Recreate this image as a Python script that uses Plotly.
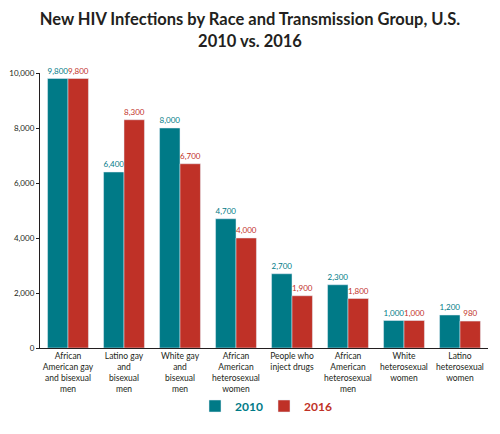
import plotly.graph_objects as go

# categories and values
groups = [
    "African<br>American gay<br>and bisexual<br>men",
    "Latino gay<br>and<br>bisexual<br>men",
    "White gay<br>and<br>bisexual<br>men",
    "African<br>American<br>heterosexual<br>women",
    "People who<br>inject drugs",
    "African<br>American<br>heterosexual<br>men",
    "White<br>heterosexual<br>women",
    "Latino<br>heterosexual<br>women",
]
infections_2010 = [9800, 6400, 8000, 4700, 2700, 2300, 1000, 1200]
infections_2016 = [9800, 8300, 6700, 4000, 1900, 1800, 1000, 980]
y_ticks = [0, 2000, 4000, 6000, 8000, 10000]

TEAL = "#007a87"
RED = "#bf3127"
FONT = "Lato"

fig = go.Figure()
fig.add_trace(go.Bar(
    x=groups, y=infections_2010,
    name="<b><span style='color:%s'>2010</span></b>" % TEAL,
    marker=dict(color=TEAL),
    text=[f"{v:,}" for v in infections_2010], textposition="outside",
    textfont=dict(color=TEAL, size=9), cliponaxis=False,
))
fig.add_trace(go.Bar(
    x=groups, y=infections_2016,
    name="<b><span style='color:%s'>2016</span></b>" % RED,
    marker=dict(color=RED),
    text=[f"{v:,}" for v in infections_2016], textposition="outside",
    textfont=dict(color=RED, size=9), cliponaxis=False,
))

fig.update_layout(
    width=500, height=434,
    margin=dict(l=40, r=12, t=73, b=86),
    paper_bgcolor="white", plot_bgcolor="white",
    font=dict(family=FONT, color="#231f20"),
    title=dict(
        text="<b>New HIV Infections by Race and Transmission Group, U.S.<br>2010 vs. 2016</b>",
        x=0.5, xanchor="center", y=0.942, yanchor="top",
        font=dict(size=16.5, color="#231f20"),
    ),
    barmode="group", bargap=0.27, bargroupgap=0,
    uniformtext=dict(minsize=8, mode="show"),
    showlegend=True,
    legend=dict(
        orientation="h", x=0.5, xanchor="center",
        yref="container", y=1 - 406 / 434, yanchor="middle",
        font=dict(size=12), itemwidth=30, traceorder="normal",
        entrywidth=24, entrywidthmode="pixels",
    ),
)
fig.update_xaxes(
    showline=True, linecolor="#231f20", linewidth=1.2, automargin=False,
    ticks="", tickfont=dict(size=8.5, color="#231f20"), showgrid=False,
)
fig.update_yaxes(
    range=[0, 10000], tickvals=y_ticks, tickformat=",", automargin=False,
    showline=True, linecolor="#231f20", linewidth=1.2,
    ticks="outside", ticklen=3, tickcolor="#231f20",
    tickfont=dict(size=8, color="#231f20"), showgrid=False, zeroline=False,
)

# drop the browser's default body margin so the figure sits at the window corner
fig.write_html("out.html", config={"displayModeBar": False},
               post_script="document.body.style.margin='0';")
